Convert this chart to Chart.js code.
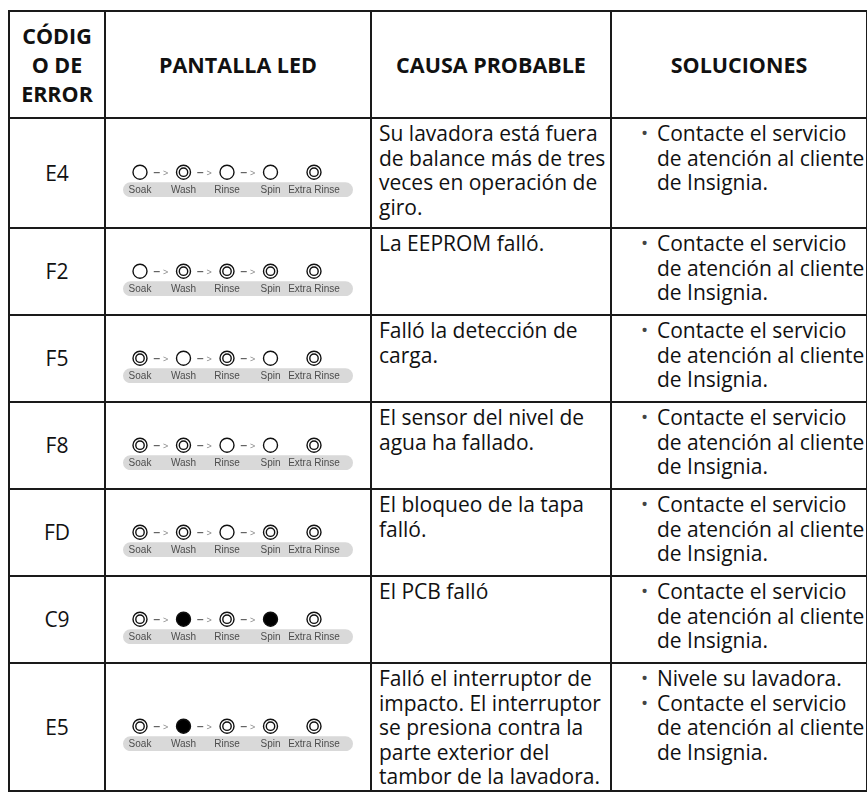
<!DOCTYPE html>
<html lang="es">
<head>
<meta charset="utf-8">
<title>Códigos de error</title>
<script src="https://cdn.jsdelivr.net/npm/chart.js@4.4.1/dist/chart.umd.min.js"></script>
<style>
  html, body { margin: 0; padding: 0; background: #fff; }
  body { width: 867px; height: 792px; overflow: hidden; position: relative;
         font-family: 'Open Sans', sans-serif; color: #111; }
  table { position: absolute; left: 8px; top: 10px; width: 858px;
          border-collapse: collapse; table-layout: fixed; }
  th, td { border: 2px solid #1a1a1a; padding: 0; overflow: visible; }
  th { font-weight: 700; font-size: 21.5px; line-height: 29px; text-align: center; vertical-align: middle; }
  td { font-size: 21px; line-height: 24.6px; vertical-align: top; }
  td.code { text-align: center; vertical-align: middle; }
  td.led { vertical-align: middle; }
  td.cause { padding: 2px 0 0 7px; white-space: nowrap; }
  td.sol { padding: 2px 0 0 0; white-space: nowrap; }
  .item { position: relative; padding-left: 45px; }
  .item::before { content: '\2022'; position: absolute; left: 29px; top: 0;
                  font-size: 19px; line-height: 24.6px; color: #444; }
  .led-box { position: relative; height: 48px; width: 100%; }
</style>
</head>
<body>
<table id="tbl">
  <colgroup><col style="width:96px"><col style="width:266px"><col style="width:240px"><col style="width:256px"></colgroup>
  <thead><tr id="head" style="height:107px"></tr></thead>
  <tbody id="body"></tbody>
</table>
<script>
// ── data ────────────────────────────────────────────────────────────────────
const headers = [['CÓDIG', 'O DE', 'ERROR'], ['PANTALLA LED'], ['CAUSA PROBABLE'], ['SOLUCIONES']];
const codes = ['E4', 'F2', 'F5', 'F8', 'FD', 'C9', 'E5'];
const steps = ['Soak', 'Wash', 'Rinse', 'Spin', 'Extra Rinse'];

// 0 = off, 1 = blinking (double ring), 2 = on (solid)
const ledStates = [
  [0, 1, 0, 0, 1],
  [0, 1, 1, 1, 1],
  [1, 0, 1, 0, 1],
  [1, 1, 0, 0, 1],
  [1, 1, 0, 1, 1],
  [1, 2, 1, 2, 1],
  [1, 2, 1, 1, 1],
];

const causes = [
  ['Su lavadora está fuera', 'de balance más de tres', 'veces en operación de', 'giro.'],
  ['La EEPROM falló.'],
  ['Falló la detección de', 'carga.'],
  ['El sensor del nivel de', 'agua ha fallado.'],
  ['El bloqueo de la tapa', 'falló.'],
  ['El PCB falló'],
  ['Falló el interruptor de', 'impacto. El interruptor', 'se presiona contra la', 'parte exterior del', 'tambor de la lavadora.'],
];

const contact = ['Contacte el servicio', 'de atención al cliente', 'de Insignia.'];
const solutions = [
  [contact], [contact], [contact], [contact], [contact], [contact],
  [['Nivele su lavadora.'], contact],
];

// layout only
const rowHeights = [110, 87, 87, 87, 87, 87, 128];

// ── LED panel plugin: grey label strip, step names, arrows ──────────────────
const ledPanel = {
  id: 'ledPanel',
  beforeDatasetsDraw(chart) {
    const { ctx, scales: { x, y } } = chart;
    const y0 = y.getPixelForValue(0);
    const first = x.getPixelForValue(0);
    const last = x.getPixelForValue(steps.length - 1);
    const top = y0 + 10, h = 15;
    const left = first - 17, right = last + 39;

    ctx.save();
    ctx.fillStyle = '#d9d9d9';
    ctx.beginPath();
    ctx.roundRect(left, top, right - left, h, h / 2);
    ctx.fill();

    ctx.fillStyle = '#4d4d4d';
    ctx.font = '10px "Liberation Sans", Arial, sans-serif';
    ctx.textAlign = 'center';
    ctx.textBaseline = 'middle';
    steps.forEach((s, i) => ctx.fillText(s, x.getPixelForValue(i), top + h / 2 + 0.5));

    // "– >" between Soak/Wash/Rinse/Spin
    for (let i = 0; i < 3; i++) {
      const mid = (x.getPixelForValue(i) + x.getPixelForValue(i + 1)) / 2;
      ctx.strokeStyle = '#444';
      ctx.lineWidth = 1;
      ctx.beginPath();
      ctx.moveTo(mid - 8, y0 + 0.5);
      ctx.lineTo(mid - 2, y0 + 0.5);
      ctx.stroke();
      ctx.fillStyle = '#888';
      ctx.font = '9px "Liberation Sans", Arial, sans-serif';
      ctx.fillText('>', mid + 4, y0 + 1);
    }
    ctx.restore();
  },
};

function renderLeds(canvas, states) {
  // the inner ring is listed first so it is painted over the white LED body
  const inner = {
    data: steps.filter((s, i) => states[i] === 1).map(s => ({ x: s, y: 0 })),
    pointRadius: 4.2, pointHoverRadius: 4.2,
    pointBorderWidth: 1.4, pointHoverBorderWidth: 1.4,
    pointBorderColor: '#111',
    pointBackgroundColor: 'rgba(0,0,0,0)',
  };
  const outer = {
    data: steps.map(s => ({ x: s, y: 0 })),
    pointRadius: 7, pointHoverRadius: 7,
    pointBorderWidth: 1.4, pointHoverBorderWidth: 1.4,
    pointBorderColor: '#111',
    pointBackgroundColor: ctx => states[ctx.dataIndex] === 2 ? '#000' : '#fff',
  };
  return new Chart(canvas.getContext('2d'), {
    type: 'scatter',
    data: { labels: steps, datasets: [inner, outer] },
    options: {
      responsive: true, maintainAspectRatio: false, animation: false,
      events: [],
      layout: { padding: { left: 34, right: 56, top: 0, bottom: 0 } },
      plugins: { legend: { display: false }, tooltip: { enabled: false } },
      scales: {
        x: { type: 'category', display: false, offset: false },
        y: { display: false, min: -1.0, max: 0.9 },
      },
    },
    plugins: [ledPanel],
  });
}

// ── build table ─────────────────────────────────────────────────────────────
const head = document.getElementById('head');
headers.forEach(lines => {
  const th = document.createElement('th');
  th.innerHTML = lines.join('<br>');
  head.appendChild(th);
});

const body = document.getElementById('body');
codes.forEach((code, r) => {
  const tr = document.createElement('tr');
  tr.style.height = rowHeights[r] + 'px';

  const tdCode = document.createElement('td');
  tdCode.className = 'code';
  tdCode.textContent = code;

  const tdLed = document.createElement('td');
  tdLed.className = 'led';
  const box = document.createElement('div');
  box.className = 'led-box';
  const canvas = document.createElement('canvas');
  box.appendChild(canvas);
  tdLed.appendChild(box);

  const tdCause = document.createElement('td');
  tdCause.className = 'cause';
  tdCause.innerHTML = causes[r].join('<br>');

  const tdSol = document.createElement('td');
  tdSol.className = 'sol';
  solutions[r].forEach(lines => {
    const d = document.createElement('div');
    d.className = 'item';
    d.innerHTML = lines.join('<br>');
    tdSol.appendChild(d);
  });

  tr.append(tdCode, tdLed, tdCause, tdSol);
  body.appendChild(tr);
  renderLeds(canvas, ledStates[r]);
});
</script>
</body>
</html>
